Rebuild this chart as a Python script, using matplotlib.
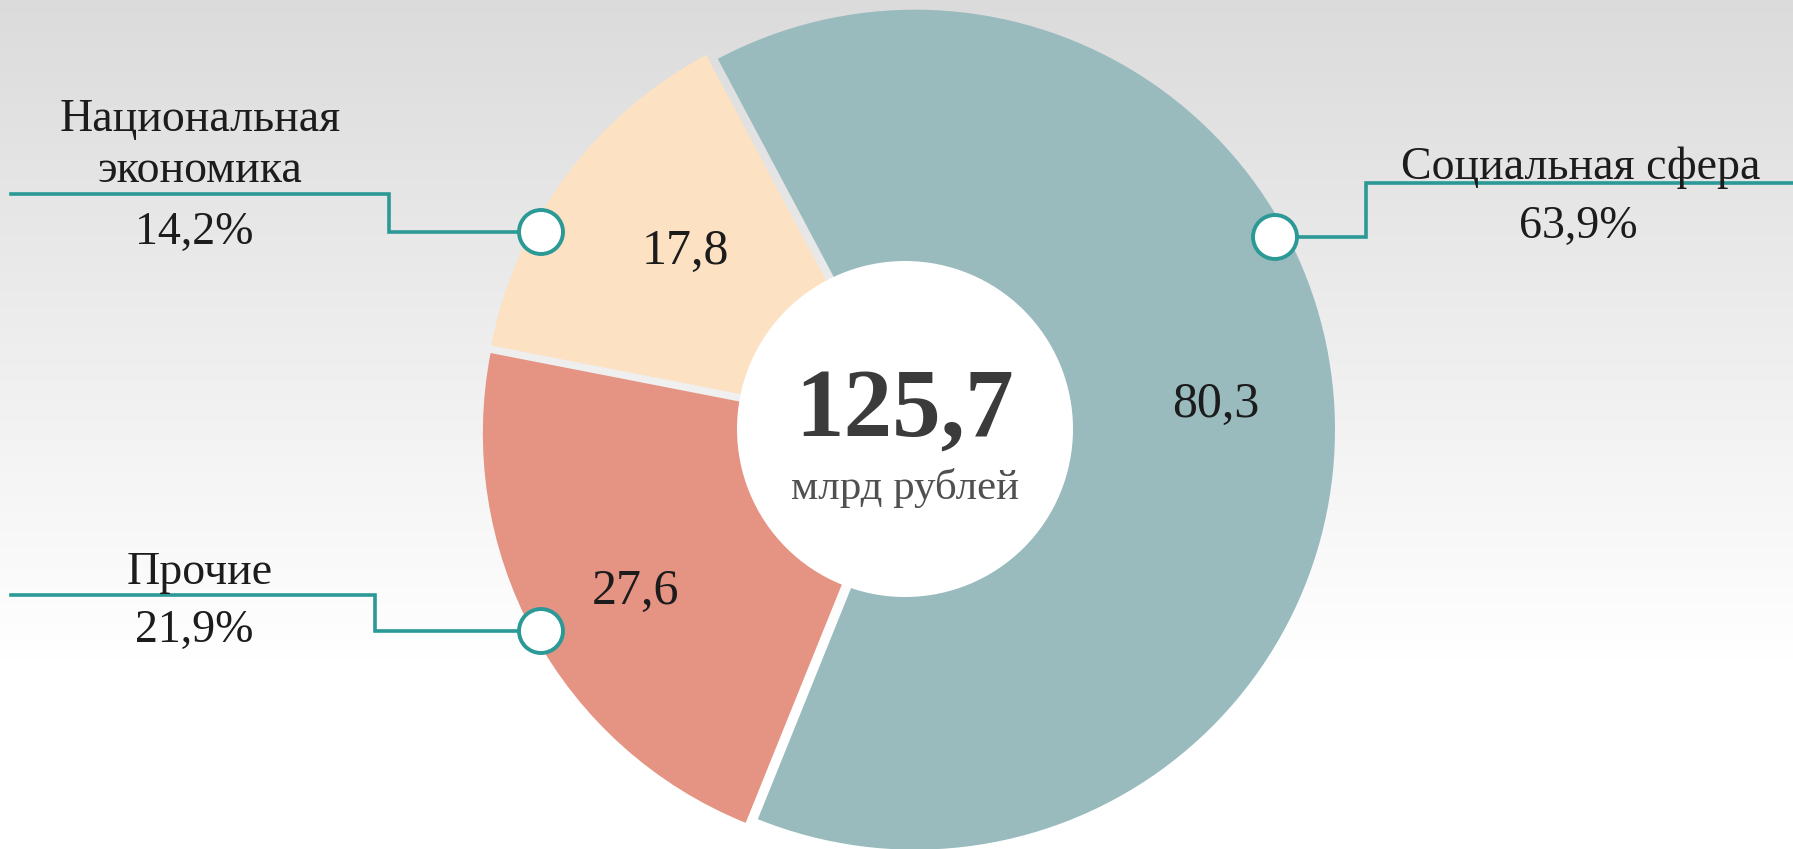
import numpy as np
import matplotlib
matplotlib.use("Agg")
import matplotlib.pyplot as plt
from matplotlib.patches import Circle

# data
categories = ["Национальная\nэкономика", "Прочие", "Социальная сфера"]
values = [17.8, 27.6, 80.3]          # млрд рублей
shares = ["14,2%", "21,9%", "63,9%"]
total_label = "125,7"
unit_label = "млрд рублей"

colors = ["#fde1c3", "#e59383", "#99bbbe"]
line_color = "#2b9996"

W, H = 1793, 849
plt.rcParams['font.family'] = ['Liberation Serif', 'DejaVu Serif']

fig = plt.figure(figsize=(W / 100, H / 100), dpi=100)
ax = fig.add_axes([0, 0, 1, 1])

# background: light gray at the top fading to white
grad = np.clip(np.linspace(0.86, 1.04, 256), 0, 1)
bg = np.dstack([grad, grad, grad])
ax.imshow(bg[::-1].reshape(256, 1, 3), extent=[0, W, 0, H], aspect='auto', zorder=0)


def Y(y):
    # image rows to data y
    return H - y


cx, cy, R = 909, Y(430), 420


def fmt_value(pct):
    v = pct / 100.0 * sum(values)
    return f"{v:.1f}".replace(".", ",")


# explode is in data units (pixels here)
wedges, texts, autotexts = ax.pie(
    values, colors=colors, startangle=118, counterclock=True,
    center=(cx, cy), radius=R, explode=[7, 7, 6],
    autopct=fmt_value, pctdistance=0.72,
    wedgeprops=dict(linewidth=0), textprops=dict(fontsize=36, color="#1c1c1c"))
for w in wedges:
    w.set_zorder(2)
value_pos = [(685, 252), (636, 592), (1216, 405)]
for t, (px, py) in zip(autotexts, value_pos):
    t.set_zorder(4)
    t.set_position((px, Y(py)))

# donut hole
ax.add_patch(Circle((905, Y(429)), 168, facecolor="white", edgecolor="none", zorder=3))
ax.text(905, Y(412), total_label, ha="center", va="center", fontsize=70,
        fontweight="bold", color="#3b3b3b", zorder=5)
ax.text(905, Y(488), unit_label, ha="center", va="center", fontsize=31,
        color="#505050", zorder=5)

# callout lines with markers
callouts = [
    # (marker, elbow x, elbow y, line end x)
    ((541, 232), 389, 194, 11),
    ((541, 631), 375, 595, 11),
    ((1275, 237), 1366, 183, W),
]
for (mx, my), ex, ey, endx in callouts:
    ax.plot([mx, ex, ex, endx], [Y(my), Y(my), Y(ey), Y(ey)],
            color=line_color, lw=2.6, solid_joinstyle="miter", zorder=5)
    ax.add_patch(Circle((mx, Y(my)), 22, facecolor="white", edgecolor=line_color,
                        lw=2.8, zorder=6))

txt = dict(ha="center", va="center", fontsize=33, color="#1c1c1c", zorder=6)
ax.text(200, Y(120), "Национальная", **txt)
ax.text(200, Y(171), "экономика", **txt)
ax.text(194, Y(233), shares[0], **txt)
ax.text(200, Y(573), categories[1], **txt)
ax.text(194, Y(631), shares[1], **txt)
ax.text(1581, Y(168), categories[2], **txt)
ax.text(1578, Y(227), shares[2], **txt)

ax.set_xlim(0, W)
ax.set_ylim(0, H)
ax.set_aspect('auto')
ax.axis('off')

fig.savefig("out.png", dpi=100)
